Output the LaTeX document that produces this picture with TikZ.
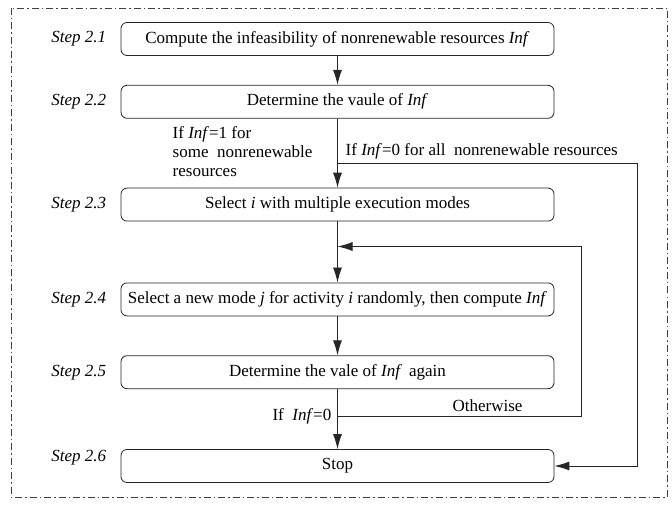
\documentclass[tikz,border=0pt]{standalone}
\usepackage{fontspec}
\setmainfont{Liberation Serif}
\usetikzlibrary{arrows.meta, positioning}

\begin{document}
\begin{tikzpicture}[
    x=1pt, y=-1pt,
    font=\fontsize{17}{19}\selectfont,
    stepbox/.style={draw=black!85, line width=0.8pt, rounded corners=6pt, minimum width=433pt, minimum height=33pt, inner sep=2pt},
    steplabel/.style={font=\fontsize{17}{19}\selectfont\itshape, anchor=east},
    arrow/.style={-{Latex[length=15pt,width=9pt]}, draw=black!85, line width=0.9pt},
    cond/.style={align=left, inner sep=0pt}
]
\useasboundingbox (0,0) rectangle (672,505);
\draw[black!75, line width=0.8pt, dash pattern=on 7pt off 3pt on 1.5pt off 3pt] (11,8) rectangle (667,497);

\node[stepbox] (comp) at (337.5,39) {Compute the infeasibility of nonrenewable resources \textit{Inf}};
\node[stepbox, below=29pt of comp] (value) {Determine the vaule of \textit{Inf}};
\node[stepbox, below=69pt of value] (select) {Select \textit{i} with multiple execution modes};
\node[stepbox, below=61pt of select] (mode) {Select a new mode \textit{j} for activity \textit{i} randomly, then compute \textit{Inf}};
\node[stepbox, below=39pt of mode] (again) {Determine the vale of \textit{Inf}\, again};
\node[stepbox, below=60pt of again] (stop) {Stop};

\node[steplabel, left=11pt of comp] (s1) {Step 2.1};
\node[steplabel, left=11pt of value] (s2) {Step 2.2};
\node[steplabel, left=11pt of select] (s3) {Step 2.3};
\node[steplabel, left=11pt of mode] (s4) {Step 2.4};
\node[steplabel, left=11pt of again] (s5) {Step 2.5};
\node[steplabel, left=11pt of stop, yshift=8pt] (s6) {Step 2.6};

\coordinate (fork) at ([yshift=-45pt]value.south);
\coordinate (loop) at ([yshift=-25pt]select.south);
\coordinate (join) at ([yshift=-27pt]again.south);

\draw[arrow] (comp) -- (value);
\draw[arrow] (value) -- (select);
\draw[arrow] (select) -- (mode);
\draw[arrow] (mode) -- (again);
\draw[arrow] (again) -- (stop);
\draw[arrow] (fork) -| ([xshift=83pt]stop.east) -- (stop.east);
\draw[arrow] (join) -| ([xshift=27pt]again.east) |- (loop);

\node[cond, anchor=north west] (some) at ([xshift=-165pt, yshift=-8pt]value.south) {If \textit{Inf}=1 for\\some~ nonrenewable\\resources};
\node[cond, anchor=south west] (all) at ([xshift=8pt, yshift=4pt]fork) {If \textit{Inf}=0 for all~ nonrenewable resources};
\node[cond, anchor=south] (other) at ([xshift=150pt, yshift=4pt]join) {Otherwise};
\node[cond, anchor=east] (zero) at ([xshift=-6pt]join) {If ~\textit{Inf}=0};
\end{tikzpicture}
\end{document}
